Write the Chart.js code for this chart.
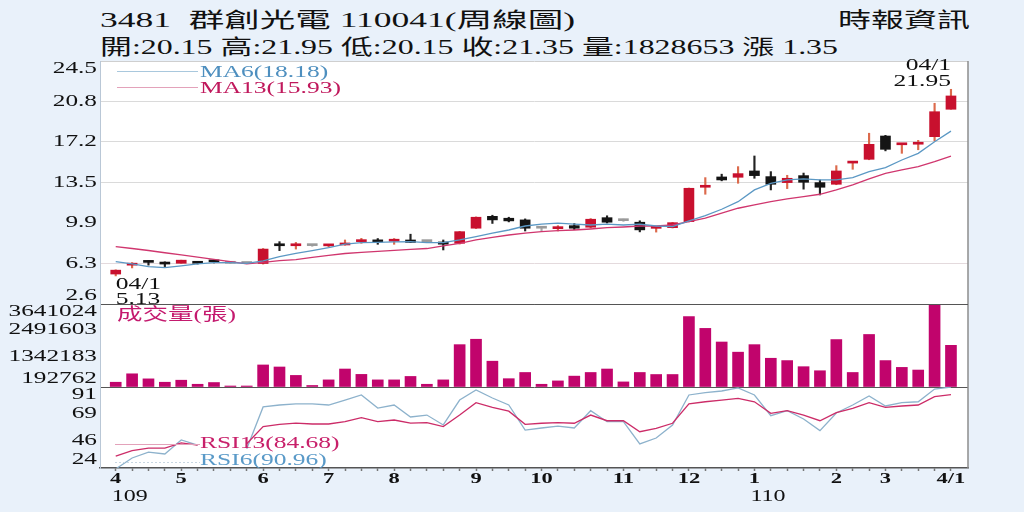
<!DOCTYPE html>
<html>
<head>
<meta charset="utf-8">
<script src="https://cdn.jsdelivr.net/npm/chart.js@4.4.1/dist/chart.umd.min.js"></script>
<style>
html, body { margin: 0; padding: 0; background: #e9f1fa; }
#wrap { position: relative; width: 1024px; height: 512px; overflow: hidden; background: #e9f1fa; }
canvas { position: absolute; left: 0; }
.hd { position: absolute; font-family: "Liberation Serif", "Noto Sans CJK TC", serif; font-size: 21px; line-height: 22px; color: #111; white-space: pre; transform-origin: 0 50%; }
</style>
</head>
<body>
<div id="wrap">
  <div class="hd" data-w="475" style="left:100px;top:9px">3481  群創光電 110041(周線圖)</div>
  <div class="hd" data-w="738" style="left:100px;top:36px">開:20.15 高:21.95 低:20.15 收:21.35 量:1828653 漲 1.35</div>
  <div class="hd" data-w="132" style="left:838px;top:9px">時報資訊</div>
  <canvas id="cV" width="1024" height="83" style="top:304px;z-index:1"></canvas>
  <canvas id="cR" width="1024" height="125" style="top:387px;z-index:1"></canvas>
  <canvas id="cP" width="1024" height="270" style="top:50px;z-index:3"></canvas>
</div>
<script>
// ---- data (weekly, 109/04 .. 110/04/1)
var monthText = ['4', '5', '6', '7', '8', '9', '10', '11', '12', '1', '2', '3', '4/1'];
var monthIdx = [0, 4, 9, 13, 17, 22, 26, 31, 35, 39, 44, 47, 51];
var yearText = ['109', '110'];
var yearIdx = [0, 39];
var hiDate = '04/1', loDate = '04/1';

var openP = [5.3, 6.1, 6.4, 6.25, 6.27, 6.3, 6.45, 6.27, 6.25, 6.25,
  7.9, 7.85, 7.86, 7.84, 7.92, 8.22, 8.25, 8.26, 8.37, 8.22,
  8.19, 8.07, 9.43, 10.5, 10.33, 10.18, 9.43, 9.39, 9.66, 9.52,
  10.38, 10.11, 9.97, 9.42, 9.48, 10.02, 13.12, 14.05, 14.02, 14.59,
  14.08, 13.54, 14.17, 13.54, 13.39, 15.3, 15.64, 17.74, 16.95, 17.0,
  17.68, 20.15];
var highP = [5.68, 6.33, 6.5, 6.4, 6.55, 6.35, 6.6, 6.3, 6.25, 7.6,
  8.22, 8.15, 7.9, 7.95, 8.37, 8.52, 8.5, 8.5, 8.89, 8.25,
  8.37, 9.15, 10.45, 10.6, 10.42, 10.27, 9.5, 9.66, 9.85, 10.3,
  10.55, 10.25, 10.1, 9.58, 9.95, 13.05, 13.99, 14.3, 14.98, 15.94,
  14.53, 14.2, 14.4, 13.78, 15.07, 15.4, 17.99, 17.8, 17.0, 17.35,
  20.69, 21.95];
var lowP = [5.13, 5.85, 6.1, 5.97, 6.27, 6.2, 6.3, 6.25, 6.25, 6.2,
  7.41, 7.55, 7.8, 7.75, 7.9, 8.07, 7.98, 7.98, 8.13, 8.18,
  7.47, 8.0, 9.4, 9.86, 10.0, 9.18, 9.2, 9.18, 9.3, 9.45,
  9.9, 10.05, 9.1, 9.08, 9.45, 10.0, 12.49, 13.7, 13.48, 13.93,
  12.88, 13.0, 12.95, 12.43, 13.35, 14.74, 15.6, 16.4, 16.18, 16.5,
  17.3, 20.15];
var closeP = [5.65, 6.12, 6.35, 6.2, 6.55, 6.27, 6.4, 6.27, 6.25, 7.55,
  7.85, 7.88, 7.86, 7.87, 8.07, 8.37, 8.2, 8.29, 8.15, 8.22,
  7.99, 9.12, 10.42, 10.18, 10.09, 9.43, 9.43, 9.55, 9.43, 10.24,
  9.97, 10.11, 9.28, 9.45, 9.93, 13.03, 13.2, 13.78, 14.35, 14.17,
  13.39, 13.93, 13.57, 13.12, 14.59, 15.37, 16.99, 16.54, 16.99, 17.08,
  19.93, 21.35];
var ma6 = [6.42, 6.21, 5.97, 5.88, 6.03, 6.21, 6.33, 6.33, 6.27, 6.48,
  6.87, 7.17, 7.41, 7.68, 7.99, 8.13, 8.16, 8.2, 8.22, 8.13,
  8.13, 8.37, 8.67, 8.98, 9.27, 9.63, 9.79, 9.88, 9.79, 9.72,
  9.79, 9.72, 9.79, 9.63, 9.57, 10.1, 10.56, 11.14, 11.82, 12.88,
  13.48, 13.78, 13.87, 13.78, 13.78, 13.99, 14.53, 14.89, 15.58, 16.18,
  17.23, 18.18];
var ma13 = [7.77, 7.6, 7.42, 7.22, 7.02, 6.82, 6.62, 6.42, 6.22, 6.35,
  6.5, 6.6, 6.8, 6.98, 7.15, 7.25, 7.35, 7.44, 7.52, 7.6,
  7.83, 8.07, 8.37, 8.61, 8.82, 8.98, 9.12, 9.21, 9.27, 9.36,
  9.48, 9.54, 9.63, 9.63, 9.72, 10.02, 10.33, 10.78, 11.23, 11.53,
  11.82, 12.07, 12.28, 12.49, 12.88, 13.33, 13.87, 14.38, 14.68, 14.98,
  15.43, 15.93];
var vol = [209000, 579000, 357000, 209000, 298000, 120000, 196000, 15000, 15000, 967000,
  878000, 508000, 67000, 312000, 789000, 553000, 312000, 312000, 463000, 120000,
  312000, 1858000, 2095000, 1132000, 365000, 637000, 120000, 267000, 477000, 637000,
  789000, 223000, 637000, 548000, 548000, 3089000, 2571000, 1974000, 1528000, 1858000,
  1261000, 1159000, 891000, 713000, 2081000, 637000, 2304000, 1159000, 860000, 744000,
  3641024, 1828653];
var rsi6 = [23.2, 32.3, 37.2, 35.6, 47.2, 43, null, null, 40, 74.5,
  76.1, 77, 77, 76.1, 80.2, 84.4, 73.6, 76.1, 66.2, 67.8,
  59.6, 80.2, 88.5, 81.9, 76.1, 55.4, 57.1, 58.7, 57.1, 71.4,
  62.3, 62.3, 43.9, 48.8, 59.6, 84.4, 86.3, 87.7, 90.2, 84.4,
  67.3, 71.4, 64.5, 54.9, 69.5, 76.1, 83.6, 75.3, 78, 78.8,
  89.3, 90.96];
var rsi13 = [33.9, 38.3, 40.5, 40.5, 44.7, 43, null, null, 44, 58.2,
  60.1, 61.2, 60.4, 60.4, 62.3, 65.6, 62.3, 63.7, 61.2, 61.5,
  58.2, 67.8, 78, 74.2, 71, 60.1, 61, 61.5, 61, 67.8,
  63.1, 63.1, 54, 56.8, 61, 77, 78.8, 80.2, 81.6, 78.8,
  69.2, 71.4, 67.8, 63.1, 69.8, 73.4, 78, 74.2, 75.3, 76.1,
  83, 84.68];

var priceTicks = [2.6, 6.25, 9.9, 13.55, 17.2, 20.85, 24.5];
var priceTickText = ['2.6', '6.3', '9.9', '13.5', '17.2', '20.8', '24.5'];
var volTicks = [192762, 1342183, 2491603, 3641024];
var rsiTicks = [24, 46.33, 68.67, 91];
var rsiTickText = ['24', '46', '69', '91'];

// ---- styles
var RED = '#c8102e', BLK = '#141414', FLAT = '#9a9a9a';
var MA6C = '#5b98c4', MA13C = '#d0366e', VOLC = '#c1046c';
var RSI6C = '#8db2cc', RSI13C = '#cc2c68';
var SERIF = '"Liberation Serif", "Noto Sans CJK TC", serif';
var X_MIN = -0.96, X_MAX = 52.04;

var idx = closeP.map(function (_, i) { return i; });
var last = idx.length - 1;

// text drawn squeezed wide, like the source picture
function sText(ctx, txt, x, y, font, color, align, sx) {
    ctx.save();
    ctx.font = font;
    ctx.fillStyle = color;
    ctx.textBaseline = 'middle';
    ctx.textAlign = 'left';
    var w = ctx.measureText(txt).width * sx;
    var x0 = align === 'right' ? x - w : (align === 'center' ? x - w / 2 : x);
    ctx.translate(x0, y);
    ctx.scale(sx, 1);
    ctx.fillText(txt, 0, 0);
    ctx.restore();
}
function hLine(ctx, x1, x2, y, color, dash) {
    ctx.save();
    ctx.strokeStyle = color;
    ctx.lineWidth = 1;
    if (dash) ctx.setLineDash(dash);
    ctx.beginPath();
    ctx.moveTo(x1, y + 0.5);
    ctx.lineTo(x2, y + 0.5);
    ctx.stroke();
    ctx.restore();
}
function yLabels(chart, texts) {
    var ys = chart.scales.y, a = chart.chartArea;
    ys.ticks.forEach(function (t, i) {
        var txt = texts[i];
        if (!txt) return;
        var p = ys.getPixelForValue(t.value);
        p = Math.min(Math.max(p, a.top + 8), a.bottom - 8);
        sText(chart.ctx, txt, 97, p, '16px ' + SERIF, '#111', 'right', 1.58);
    });
}

var frame = {
    id: 'frame',
    beforeDraw: function (chart) {
        var a = chart.chartArea, c = chart.ctx;
        c.save();
        c.fillStyle = '#ffffff';
        c.fillRect(a.left, a.top, a.right - a.left, a.bottom - a.top);
        c.restore();
    },
    afterDraw: function (chart) {
        var a = chart.chartArea, c = chart.ctx;
        c.save();
        c.strokeStyle = '#8c8c8c';
        c.lineWidth = 1.5;
        c.beginPath();
        c.moveTo(a.right, a.top);
        c.lineTo(a.right, a.bottom);
        c.stroke();
        c.restore();
    }
};

function xAxis() {
    return { type: 'linear', min: X_MIN, max: X_MAX, offset: false, display: false,
        grid: { display: false }, ticks: { display: false } };
}
function yAxis(min, max, ticks, gridColor) {
    return {
        type: 'linear', position: 'left', min: min, max: max,
        afterBuildTicks: function (s) { s.ticks = ticks.map(function (v) { return { value: v }; }); },
        afterFit: function (s) { s.width = 100; },
        ticks: { display: false },
        grid: { drawTicks: false, lineWidth: 1, color: gridColor },
        border: { display: true, color: '#b9c7d6' }
    };
}
var baseOpts = { responsive: false, animation: false, events: [] };
var noPlug = { legend: { display: false }, tooltip: { enabled: false } };

// ---- price panel
var up = function (i) { return closeP[i] > openP[i]; };
var dn = function (i) { return closeP[i] < openP[i]; };
var bodyCol = idx.map(function (i) { return up(i) ? RED : (dn(i) ? BLK : FLAT); });
var wickCol = idx.map(function (i) { return up(i) ? '#dc6a4c' : (dn(i) ? '#222' : '#aaaaaa'); });

var priceText = {
    id: 'priceText',
    afterDraw: function (chart) {
        var c = chart.ctx, a = chart.chartArea, xs = chart.scales.x, ys = chart.scales.y;
        var F = '17px ' + SERIF;
        yLabels(chart, priceTickText);
        // legend
        hLine(c, a.left + 17, a.left + 98, a.top + 10, '#a9c8dd');
        sText(c, 'MA6(' + ma6[last].toFixed(2) + ')', a.left + 100, a.top + 12, F, '#4e8fbf', 'left', 1.5);
        hLine(c, a.left + 17, a.left + 98, a.top + 26, '#e3a2ba');
        sText(c, 'MA13(' + ma13[last].toFixed(2) + ')', a.left + 100, a.top + 28, F, '#c0185c', 'left', 1.5);
        // highest / lowest
        var hi = 0, lo = 0;
        idx.forEach(function (i) {
            if (highP[i] > highP[hi]) hi = i;
            if (lowP[i] < lowP[lo]) lo = i;
        });
        var hx = xs.getPixelForValue(hi), hy = ys.getPixelForValue(highP[hi]);
        sText(c, hiDate, hx, hy - 24, F, '#111', 'right', 1.5);
        sText(c, highP[hi].toFixed(2), hx, hy - 8, F, '#111', 'right', 1.5);
        var lx = xs.getPixelForValue(lo), ly = ys.getPixelForValue(lowP[lo]);
        sText(c, loDate, lx, ly + 9, F, '#111', 'left', 1.5);
        sText(c, lowP[lo].toFixed(2), lx, ly + 24, F, '#111', 'left', 1.5);
    }
};

new Chart(document.getElementById('cP'), {
    type: 'bar',
    data: {
        datasets: [
            { type: 'line', data: idx.map(function (i) { return { x: i, y: ma6[i] }; }),
              borderColor: MA6C, borderWidth: 1.3, pointRadius: 0, order: 0 },
            { type: 'line', data: idx.map(function (i) { return { x: i, y: ma13[i] }; }),
              borderColor: MA13C, borderWidth: 1.3, pointRadius: 0, order: 0 },
            { data: idx.map(function (i) { return { x: i, y: [lowP[i], highP[i]] }; }),
              backgroundColor: wickCol, barThickness: 1.5, grouped: false, order: 2 },
            { data: idx.map(function (i) { return { x: i, y: [openP[i], closeP[i]] }; }),
              backgroundColor: bodyCol, barThickness: 10, minBarLength: 2, grouped: false, order: 1 }
        ]
    },
    options: Object.assign({}, baseOpts, {
        layout: { padding: { left: 0, right: 56, top: 11, bottom: 16 } },
        scales: {
            x: xAxis(),
            y: yAxis(2.6, 24.5, priceTicks, function (ctx) {
                var k = ctx.index;
                if (k === 0) return '#555555';
                if (k === priceTicks.length - 1) return '#cfcfcf';
                if (k === 2) return 'rgba(0,0,0,0)';
                if (k === 1) return '#e4dadd';
                return '#dadada';
            })
        },
        plugins: noPlug
    }),
    plugins: [frame, priceText]
});

// ---- volume panel
var volText = {
    id: 'volText',
    afterDraw: function (chart) {
        var a = chart.chartArea;
        yLabels(chart, [''].concat(volTicks.map(String)));
        sText(chart.ctx, '成交量(張)', a.left + 17, a.top + 12, '17px ' + SERIF, '#c41a6e', 'left', 1.5);
    }
};
new Chart(document.getElementById('cV'), {
    type: 'bar',
    data: {
        datasets: [{ data: idx.map(function (i) { return { x: i, y: vol[i] }; }),
            backgroundColor: VOLC, barThickness: 11, minBarLength: 1, grouped: false }]
    },
    options: Object.assign({}, baseOpts, {
        layout: { padding: { left: 0, right: 56, top: 0, bottom: 0 } },
        scales: {
            x: xAxis(),
            y: yAxis(0, volTicks[volTicks.length - 1], [0].concat(volTicks), function (ctx) {
                var k = ctx.index;
                return (k === 0 || k === volTicks.length) ? '#555555' : 'rgba(0,0,0,0)';
            })
        },
        plugins: noPlug
    }),
    plugins: [frame, volText]
});

// ---- RSI panel
var rsiText = {
    id: 'rsiText',
    afterDraw: function (chart) {
        var c = chart.ctx, a = chart.chartArea, xs = chart.scales.x;
        var F = '17px ' + SERIF;
        yLabels(chart, rsiTickText);
        hLine(c, a.left + 15, a.left + 100, a.top + 57, '#e3a2ba');
        sText(c, 'RSI13(' + rsi13[last].toFixed(2) + ')', a.left + 100, a.top + 57, F, '#c8206a', 'left', 1.5);
        hLine(c, a.left + 15, a.left + 100, a.top + 75, '#c9d7e2', [2, 2]);
        sText(c, 'RSI6(' + rsi6[last].toFixed(2) + ')', a.left + 100, a.top + 74, F, '#5a9ac8', 'left', 1.5);
        monthIdx.forEach(function (m, k) {
            sText(c, monthText[k], xs.getPixelForValue(m), a.bottom + 11, 'bold 15px ' + SERIF, '#111', 'center', 1.5);
        });
        yearIdx.forEach(function (m, k) {
            sText(c, yearText[k], xs.getPixelForValue(m) - 4, a.bottom + 29, '16px ' + SERIF, '#111', 'left', 1.5);
        });
    }
};
new Chart(document.getElementById('cR'), {
    type: 'line',
    data: {
        datasets: [
            { data: idx.map(function (i) { return { x: i, y: rsi13[i] }; }),
              borderColor: RSI13C, borderWidth: 1.3, pointRadius: 0, spanGaps: false },
            { data: idx.map(function (i) { return { x: i, y: rsi6[i] }; }),
              borderColor: RSI6C, borderWidth: 1.3, pointRadius: 0, spanGaps: false }
        ]
    },
    options: Object.assign({}, baseOpts, {
        layout: { padding: { left: 0, right: 56, top: 0, bottom: 0 } },
        scales: {
            x: {
                type: 'linear', min: X_MIN, max: X_MAX, offset: false,
                afterBuildTicks: function (s) { s.ticks = idx.map(function (v) { return { value: v }; }); },
                afterFit: function (s) { s.height = 44; },
                grid: { display: true, drawOnChartArea: false, drawTicks: true, tickLength: 3, tickColor: '#777', tickWidth: 1.5 },
                border: { display: true, color: '#555555', width: 1.5 },
                ticks: { display: false, autoSkip: false }
            },
            y: yAxis(24, 91, rsiTicks, function (ctx) {
                return ctx.index === rsiTicks.length - 1 ? '#555555' : 'rgba(0,0,0,0)';
            })
        },
        plugins: noPlug
    }),
    plugins: [frame, rsiText]
});

// header lines stretched to the widths seen in the picture
document.querySelectorAll('.hd').forEach(function (el) {
    var w = el.getBoundingClientRect().width;
    el.style.transform = 'scaleX(' + (parseFloat(el.getAttribute('data-w')) / w) + ')';
});
</script>
</body>
</html>
